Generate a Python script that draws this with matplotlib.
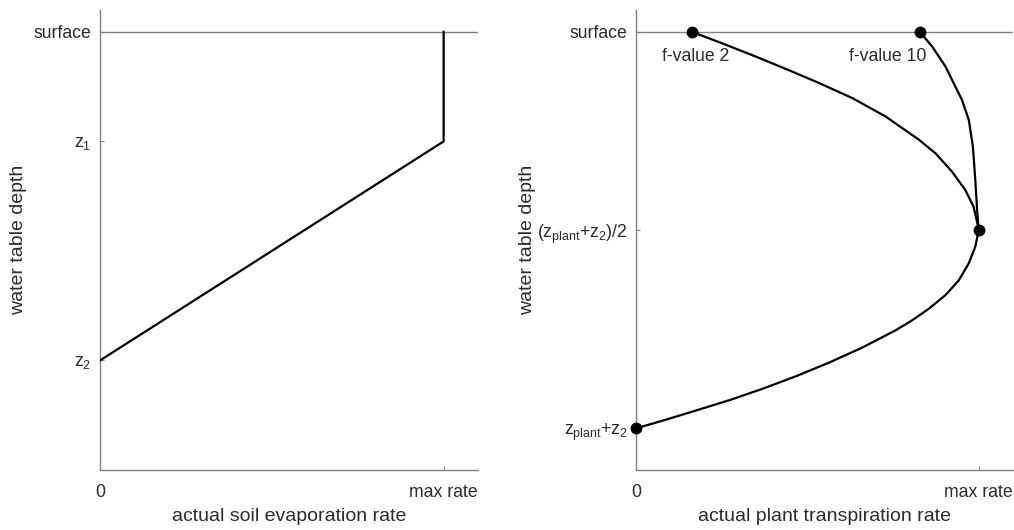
"""Water table depth response of soil evaporation and plant transpiration."""

import matplotlib

matplotlib.use("Agg")
import matplotlib.pyplot as plt

plt.rcParams["font.family"] = ["Liberation Sans", "DejaVu Sans"]
plt.rcParams["mathtext.default"] = "regular"

TEXT = "#2b2b2b"
AXIS = "#808080"

# left panel: evaporation rate (fraction of max) vs depth
evap_rate = [1.0, 1.0, 0.0]
evap_depth = [0.0, 1.0, 3.0]
evap_ticks = [0.0, 1.0, 3.0]
evap_ticklabels = ["surface", r"z$_1$", r"z$_2$"]

# right panel: transpiration rate vs depth, shape factor f = 2 and f = 10
f2_rate = [0.163, 0.254, 0.351, 0.448, 0.535, 0.632, 0.729, 0.826,
           0.874, 0.922, 0.961, 0.985, 0.996, 1.0]
f2_depth = [0.0, 0.060, 0.126, 0.195, 0.259, 0.335, 0.428, 0.545,
            0.613, 0.705, 0.798, 0.882, 0.966, 1.0]
f10_rate = [0.828, 0.864, 0.903, 0.922, 0.951, 0.971, 0.983, 0.990,
            0.996, 1.0]
f10_depth = [0.0, 0.074, 0.175, 0.242, 0.343, 0.444, 0.579, 0.747,
             0.916, 1.0]
deep_rate = [1.0, 0.990, 0.971, 0.942, 0.903, 0.855, 0.806, 0.758,
             0.661, 0.564, 0.467, 0.370, 0.274, 0.177, 0.080, 0.0]
deep_depth = [1.0, 1.084, 1.168, 1.253, 1.328, 1.396, 1.455, 1.505,
              1.592, 1.668, 1.737, 1.800, 1.857, 1.909, 1.960, 2.0]
marker_rate = [0.163, 0.828, 1.0, 0.0]
marker_depth = [0.0, 0.0, 1.0, 2.0]
trans_ticks = [0.0, 1.0, 2.0]
trans_ticklabels = ["surface", r"(z$_{plant}$+z$_2$)/2", r"z$_{plant}$+z$_2$"]

rate_ticks = [0.0, 1.0]
rate_ticklabels = ["0", "max rate"]


def style_axes(ax, ylim, yticks, yticklabels, xlabel):
    ax.set_xlim(0, 1.1)
    ax.set_ylim(*ylim)
    ax.axhline(0.0, color=AXIS, lw=1.0, zorder=1)
    for side in ("top", "right"):
        ax.spines[side].set_visible(False)
    for side in ("left", "bottom"):
        ax.spines[side].set_color(AXIS)
        ax.spines[side].set_linewidth(1.0)
    ax.set_xticks(rate_ticks)
    ax.set_xticklabels(rate_ticklabels)
    ax.set_yticks(yticks)
    ax.set_yticklabels(yticklabels)
    ax.tick_params(axis="both", direction="in", length=3, width=0.8,
                   color=AXIS, labelcolor=TEXT, labelsize=12.7)
    ax.tick_params(axis="x", pad=10)
    ax.tick_params(axis="y", pad=6)
    ax.set_xlabel(xlabel, fontsize=14, color=TEXT, labelpad=5)
    ax.set_ylabel("water table depth", fontsize=14, color=TEXT)


fig = plt.figure(figsize=(10.14, 5.30), dpi=100)
ax1 = fig.add_axes([0.0986, 0.1132, 0.3728, 0.868])
ax2 = fig.add_axes([0.6272, 0.1132, 0.3718, 0.868])

ax1.plot(evap_rate, evap_depth, color="black", lw=1.6, zorder=3)
style_axes(ax1, (4.0, -0.2), evap_ticks, evap_ticklabels,
           "actual soil evaporation rate")
ax1.yaxis.set_label_coords(-0.194, 0.5)

line_kw = dict(color="black", lw=1.6, zorder=3, solid_joinstyle="round")
ax2.plot(f2_rate, f2_depth, **line_kw)
ax2.plot(f10_rate, f10_depth, **line_kw)
ax2.plot(deep_rate, deep_depth, **line_kw)
ax2.plot(marker_rate, marker_depth, "o", color="black", ms=7.5,
         zorder=4, clip_on=False)
ax2.annotate("f-value 2", (marker_rate[0], marker_depth[0]),
             xytext=(3, -12), textcoords="offset points",
             ha="center", va="top", fontsize=12.7, color=TEXT)
ax2.annotate("f-value 10", (marker_rate[1], marker_depth[1]),
             xytext=(5, -12), textcoords="offset points",
             ha="right", va="top", fontsize=12.7, color=TEXT)
style_axes(ax2, (2.21, -0.11), trans_ticks, trans_ticklabels,
           "actual plant transpiration rate")
ax2.yaxis.set_label_coords(-0.264, 0.5)

fig.savefig("out.png", dpi=100)
plt.close(fig)
